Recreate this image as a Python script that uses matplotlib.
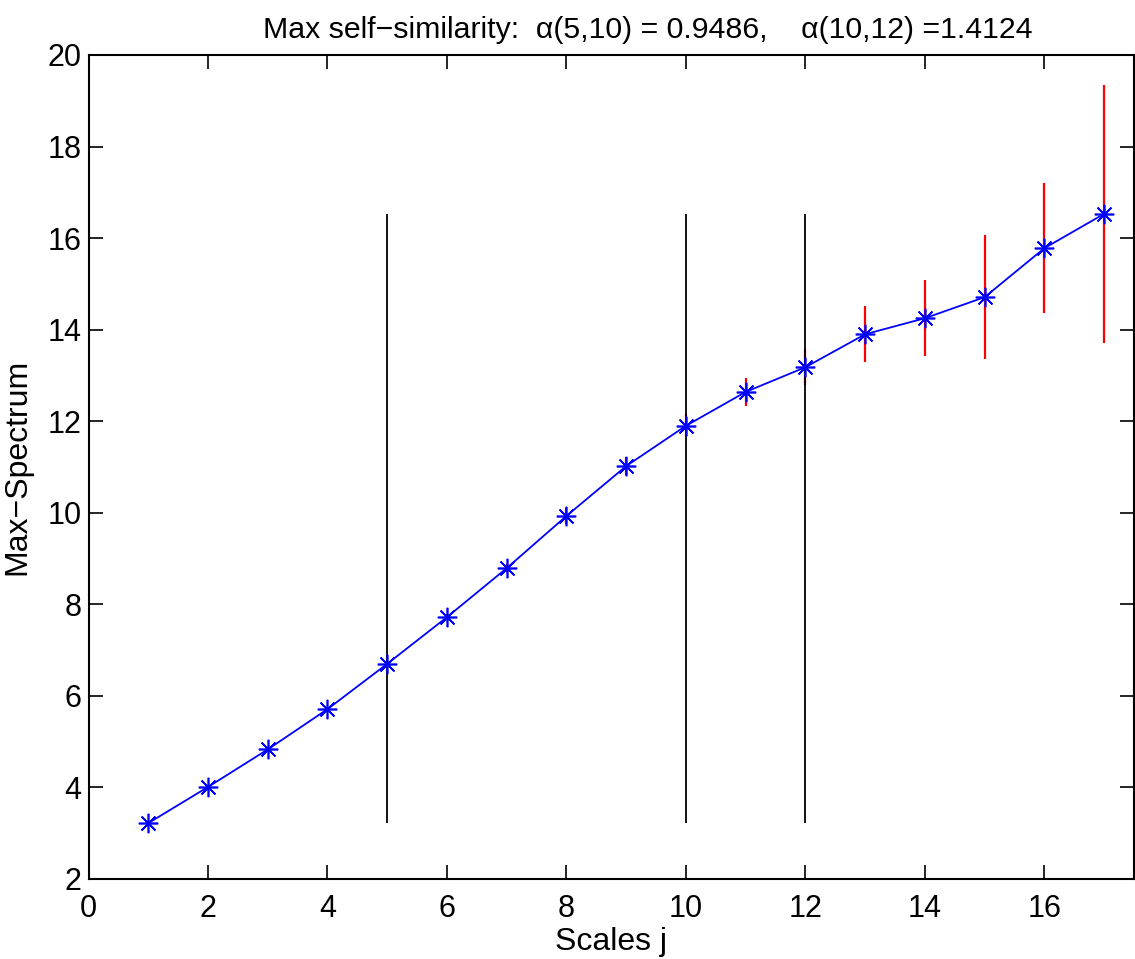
import numpy as np
import matplotlib
matplotlib.use("Agg")
import matplotlib.pyplot as plt

plt.rcParams['font.family'] = ['Liberation Sans', 'DejaVu Sans']

# Data
scales = np.arange(1, 18)
spectrum = [3.22, 4.01, 4.83, 5.71, 6.70, 7.72, 8.79, 9.93, 11.02,
            11.90, 12.64, 13.18, 13.90, 14.25, 14.71, 15.78, 16.53]
err = [0.04, 0.04, 0.05, 0.05, 0.06, 0.07, 0.09, 0.17, 0.20,
       0.25, 0.31, 0.39, 0.61, 0.83, 1.35, 1.42, 2.82]
cuts = [5, 10, 12]

title = 'Max self\u2212similarity:  \u03b1(5,10) = 0.9486,    \u03b1(10,12) =1.4124'

fig = plt.figure(figsize=(11.35, 9.59), dpi=100)
ax = fig.add_axes([88.5/1135, 80/959, (1134-88.5)/1135, 824/959])

spectrum = np.array(spectrum)
err = np.array(err)

# red error bars
ax.vlines(scales, spectrum - err, spectrum + err, color='red', lw=1.6, zorder=2)
# black range lines at the chosen scales
ax.vlines(cuts, spectrum.min(), spectrum.max(), color='black', lw=1.3, zorder=3)
# blue curve with asterisks
ax.plot(scales, spectrum, '-', color='blue', lw=1.3, zorder=4)
ax.plot(scales, spectrum, ls='none', marker=(8, 2, 0), ms=14, mew=1.2,
        color='blue', zorder=5)

ax.set_xlim(0, 17.5)
ax.set_ylim(2, 20)
ax.set_xticks(np.arange(0, 17, 2))
ax.set_yticks(np.arange(2, 21, 2))
ax.tick_params(direction='in', length=10, width=1.2, labelsize=22,
               top=True, right=True)
ax.tick_params(axis='x', pad=11)
ax.tick_params(axis='y', pad=5)
for s in ax.spines.values():
    s.set_linewidth(1.5)

ax.set_xlabel('Scales j', fontsize=23, labelpad=2)
ax.set_ylabel('Max\u2212Spectrum', fontsize=23, labelpad=11)
ax.set_title(title, fontsize=21.8, x=0.535, pad=12)

fig.savefig('out.png', dpi=100)
